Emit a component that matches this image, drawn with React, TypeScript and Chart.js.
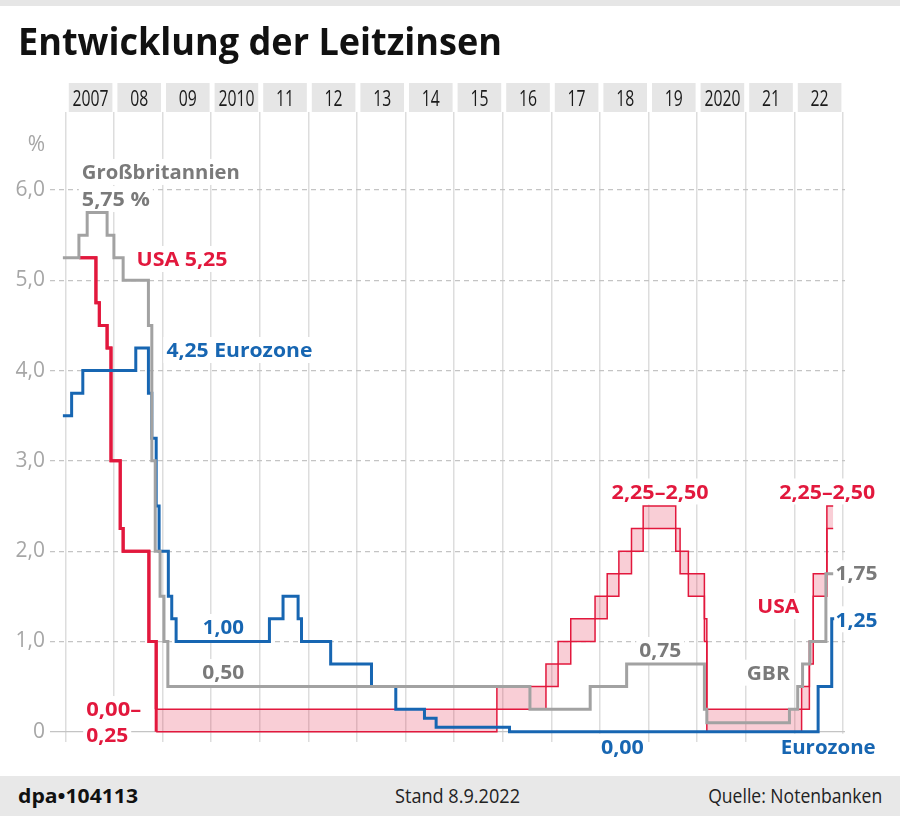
import React, { useEffect, useLayoutEffect, useRef } from 'react';
import { Chart, registerables } from 'chart.js';

Chart.register(...registerables);

// ---------- data ----------
const years = [2007, 2008, 2009, 2010, 2011, 2012, 2013, 2014, 2015, 2016, 2017, 2018, 2019, 2020, 2021, 2022];
const yearLabels = ['2007', '08', '09', '2010', '11', '12', '13', '14', '15', '16', '17', '18', '19', '2020', '21', '22'];
const gridYears = [2007, 2008, 2009, 2010, 2011, 2012, 2013, 2014, 2015, 2016, 2017, 2018, 2019, 2020, 2021, 2022, 2023];

const yTickValues = [0, 1, 2, 3, 4, 5, 6, 6.5];
const yTickLabels = ['0', '1,0', '2,0', '3,0', '4,0', '5,0', '6,0', '%'];

// Großbritannien (Bank Rate)
const gbrDates = [2006.95, 2007.28, 2007.45, 2007.86, 2008.0, 2008.19, 2008.71, 2008.78, 2008.85, 2008.95, 2009.03, 2009.11, 2016.56, 2017.8, 2018.55, 2020.15, 2020.2, 2021.9, 2022.07, 2022.17, 2022.32, 2022.65, 2022.8];
const gbrRates = [5.25, 5.5, 5.75, 5.5, 5.25, 5.0, 4.5, 3.0, 2.0, 1.5, 1.0, 0.5, 0.25, 0.5, 0.75, 0.25, 0.1, 0.25, 0.5, 0.75, 1.0, 1.75, 1.75];

// Eurozone (Hauptrefinanzierungssatz)
const ecbDates = [2006.95, 2007.13, 2007.36, 2008.45, 2008.71, 2008.78, 2008.87, 2008.93, 2009.12, 2009.19, 2009.28, 2011.2, 2011.48, 2011.79, 2011.86, 2012.46, 2013.3, 2013.8, 2014.39, 2014.63, 2016.14, 2022.49, 2022.77, 2022.82];
const ecbRates = [3.5, 3.75, 4.0, 4.25, 3.75, 3.25, 2.5, 2.0, 1.5, 1.25, 1.0, 1.25, 1.5, 1.25, 1.0, 0.75, 0.5, 0.25, 0.15, 0.05, 0.0, 0.5, 1.25, 1.25];

// USA (Federal Funds Target, Spanne unten / oben)
const usDates = [2007.29, 2007.63, 2007.7, 2007.86, 2007.94, 2008.13, 2008.19, 2008.72, 2008.87, 2015.88, 2016.89, 2017.14, 2017.4, 2017.9, 2018.15, 2018.39, 2018.65, 2018.89, 2019.56, 2019.65, 2019.82, 2020.15, 2020.2, 2022.15, 2022.31, 2022.39, 2022.67, 2022.8];
const usLower = [5.25, 4.75, 4.5, 4.25, 3.0, 2.25, 2.0, 1.0, 0, 0.25, 0.5, 0.75, 1.0, 1.25, 1.5, 1.75, 2.0, 2.25, 2.0, 1.75, 1.5, 1.0, 0, 0.25, 0.75, 1.5, 2.25, 2.25];
const usUpper = [5.25, 4.75, 4.5, 4.25, 3.0, 2.25, 2.0, 1.0, 0.25, 0.5, 0.75, 1.0, 1.25, 1.5, 1.75, 2.0, 2.25, 2.5, 2.25, 2.0, 1.75, 1.25, 0.25, 0.5, 1.0, 1.75, 2.5, 2.5];

// annotations: text, x (year), y (value), colour key, target width
const labelTexts = ['Großbritannien', '5,75 %', 'USA 5,25', '4,25 Eurozone', '1,00', '0,50', '0,00–', '0,25', '2,25–2,50', '0,75', '0,00', '2,25–2,50', '1,75', 'USA', '1,25', 'GBR', 'Eurozone'];
const labelX = [2007.34, 2007.34, 2008.465, 2009.08, 2009.83, 2009.82, 2007.43, 2007.43, 2018.24, 2018.81, 2018.02, 2021.69, 2022.85, 2021.24, 2022.85, 2021.02, 2021.72];
const labelY = [6.2, 5.9, 5.236, 4.228, 1.16, 0.661, 0.251, -0.037, 2.661, 0.905, -0.166, 2.661, 1.755, 1.392, 1.245, 0.654, -0.166];
const labelColor = ['gray', 'gray', 'red', 'blue', 'blue', 'gray', 'red', 'red', 'red', 'gray', 'blue', 'red', 'gray', 'red', 'blue', 'gray', 'blue'];
const labelWidth = [158, 68, 91, 146, 41, 42, 55, 42, 97, 42, 43, 96, 42, 42, 42, 43, 95];

// ---------- styles ----------
const RED = '#e2183d';
const BLUE = '#1766b2';
const GRAY_LINE = '#a2a2a2';
const GRAY_TEXT = '#7a7a7a';
const PINK = 'rgba(228, 23, 62, 0.21)';
const COLORS: Record<string, string> = { red: RED, blue: BLUE, gray: GRAY_TEXT };
const SANS = "'Open Sans', 'Noto Sans', sans-serif";
const COND = "'Liberation Sans Narrow', 'Open Sans', sans-serif";

const toPts = (xs: number[], ys: number[]) => xs.map((x, i) => ({ x, y: ys[i] }));
const usRangeStart = usLower.findIndex((v, i) => v !== usUpper[i]);

const headerPlugin = {
  id: 'yearHeader',
  afterDraw(chart: any) {
    const { ctx, chartArea } = chart;
    const x = chart.scales.x;
    ctx.save();
    ctx.font = `21px ${COND}`;
    const sx = 36 / ctx.measureText('2007').width;
    const top = chartArea.top - 29;
    years.forEach((yr, i) => {
      const a = x.getPixelForValue(yr);
      const b = x.getPixelForValue(yr + 1);
      ctx.fillStyle = '#e6e6e6';
      ctx.fillRect(a + 3.5, top, b - a - 5, 29);
      ctx.fillStyle = '#1a1a1a';
      ctx.save();
      ctx.translate((a + b) / 2 + 1, top + 22.5);
      ctx.scale(sx, 1);
      ctx.textAlign = 'center';
      ctx.textBaseline = 'alphabetic';
      ctx.fillText(yearLabels[i], 0, 0);
      ctx.restore();
    });
    ctx.restore();
  },
};

const labelPlugin = {
  id: 'rateLabels',
  beforeDatasetsDraw(chart: any) {
    const { ctx } = chart;
    const x = chart.scales.x;
    const y = chart.scales.y;
    ctx.save();
    ctx.font = `bold 20px ${SANS}`;
    labelTexts.forEach((t, i) => {
      const px = x.getPixelForValue(labelX[i]);
      const py = y.getPixelForValue(labelY[i]);
      const w = labelWidth[i];
      ctx.fillStyle = '#ffffff';
      ctx.fillRect(px - 3, py - 13, w + 6, 26);
    });
    labelTexts.forEach((t, i) => {
      const px = x.getPixelForValue(labelX[i]);
      const py = y.getPixelForValue(labelY[i]);
      const m = ctx.measureText(t).width;
      const s = labelWidth[i] / m;
      ctx.save();
      ctx.translate(px, py + 7.2);
      ctx.scale(s, 1);
      ctx.fillStyle = COLORS[labelColor[i]];
      ctx.textAlign = 'left';
      ctx.textBaseline = 'alphabetic';
      ctx.fillText(t, 0, 0);
      ctx.restore();
    });
    ctx.restore();
  },
};

function FitText(props: { text: string; width: number; left?: number; right?: number; top: number; size: number; weight?: number; color?: string; family?: string }) {
  const ref = useRef<HTMLDivElement>(null);
  useLayoutEffect(() => {
    const el = ref.current;
    if (!el) return;
    el.style.transform = 'none';
    const w = el.getBoundingClientRect().width;
    if (w > 0) el.style.transform = `scaleX(${props.width / w})`;
  }, [props.text, props.width]);
  return (
    <div
      ref={ref}
      style={{
        position: 'absolute',
        left: props.left,
        right: props.right,
        top: props.top,
        fontSize: props.size,
        fontWeight: props.weight ?? 400,
        color: props.color ?? '#111',
        fontFamily: props.family ?? SANS,
        lineHeight: 1,
        whiteSpace: 'nowrap',
        transformOrigin: props.right !== undefined ? 'right top' : 'left top',
      }}
    >
      {props.text}
    </div>
  );
}

export default function App() {
  const canvasRef = useRef<HTMLCanvasElement>(null);

  useEffect(() => {
    const canvas = canvasRef.current;
    if (!canvas) return;
    const thick = (c: any) => (c.p1DataIndex <= usRangeStart ? 3 : undefined);
    const chart = new Chart(canvas, {
      type: 'line',
      data: {
        datasets: [
          { label: 'Großbritannien', data: toPts(gbrDates, gbrRates), borderColor: GRAY_LINE, borderWidth: 3, stepped: true, pointRadius: 0, fill: false },
          { label: 'Eurozone', data: toPts(ecbDates, ecbRates), borderColor: BLUE, borderWidth: 3, stepped: true, pointRadius: 0, fill: false },
          { label: 'USA untere Spanne', data: toPts(usDates, usLower), borderColor: RED, borderWidth: 1.5, stepped: true, pointRadius: 0, fill: false, segment: { borderWidth: thick } },
          { label: 'USA obere Spanne', data: toPts(usDates, usUpper), borderColor: RED, borderWidth: 1.5, stepped: true, pointRadius: 0, fill: '-1', backgroundColor: PINK, segment: { borderWidth: thick } },
        ] as any,
      },
      options: {
        animation: false,
        responsive: false,
        events: [],
        layout: { padding: { left: 0, right: 55, top: 112, bottom: 74 } },
        plugins: { legend: { display: false }, tooltip: { enabled: false } },
        elements: { line: { borderCapStyle: 'butt', borderJoinStyle: 'miter', tension: 0 } },
        scales: {
          x: {
            type: 'linear',
            min: 2006.685,
            max: 2023.043,
            afterBuildTicks: (axis: any) => {
              axis.ticks = gridYears.map((v) => ({ value: v }));
            },
            afterFit: (axis: any) => {
              axis.height = 0;
            },
            ticks: { display: false },
            grid: { color: '#dddddd', lineWidth: 1.5, drawTicks: false },
            border: { display: false },
          },
          y: {
            type: 'linear',
            min: -0.114,
            max: 6.864,
            afterBuildTicks: (axis: any) => {
              axis.ticks = yTickValues.map((v) => ({ value: v }));
            },
            afterFit: (axis: any) => {
              axis.width = 50;
            },
            ticks: {
              autoSkip: false,
              padding: 5,
              color: '#a6a6a6',
              font: { family: COND, size: 21 },
              callback: (v: any) => yTickLabels[yTickValues.indexOf(Number(v))] ?? '',
            },
            grid: {
              drawTicks: false,
              lineWidth: 1.2,
              color: (c: any) => (c.tick && c.tick.value > 6 ? 'rgba(0,0,0,0)' : '#c4c4c4'),
            },
            border: {
              display: false,
              dash: (c: any) => (c.tick && c.tick.value === 0 ? [] : [5, 4]),
            },
          },
        },
      } as any,
      plugins: [headerPlugin, labelPlugin],
    });
    return () => chart.destroy();
  }, []);

  return (
    <div style={{ position: 'absolute', left: 0, top: 0, width: 900, height: 816, background: '#fff', overflow: 'hidden' }}>
      <div style={{ position: 'absolute', left: 0, top: 0, width: 900, height: 6, background: '#e6e6e6' }} />
      <canvas ref={canvasRef} width={900} height={816} style={{ position: 'absolute', left: 0, top: 0 }} />
      <FitText text="Entwicklung der Leitzinsen" width={484} left={18} top={21} size={38} weight={700} color="#111" />
      <div style={{ position: 'absolute', left: 0, top: 776, width: 900, height: 40, background: '#e8e8e8' }} />
      <FitText text="dpa•104113" width={120} left={18} top={786} size={20} weight={700} color="#111" />
      <FitText text="Stand 8.9.2022" width={125} left={395} top={786} size={20} weight={400} color="#222" />
      <FitText text="Quelle: Notenbanken" width={174} right={18} top={786} size={20} weight={400} color="#222" />
    </div>
  );
}
